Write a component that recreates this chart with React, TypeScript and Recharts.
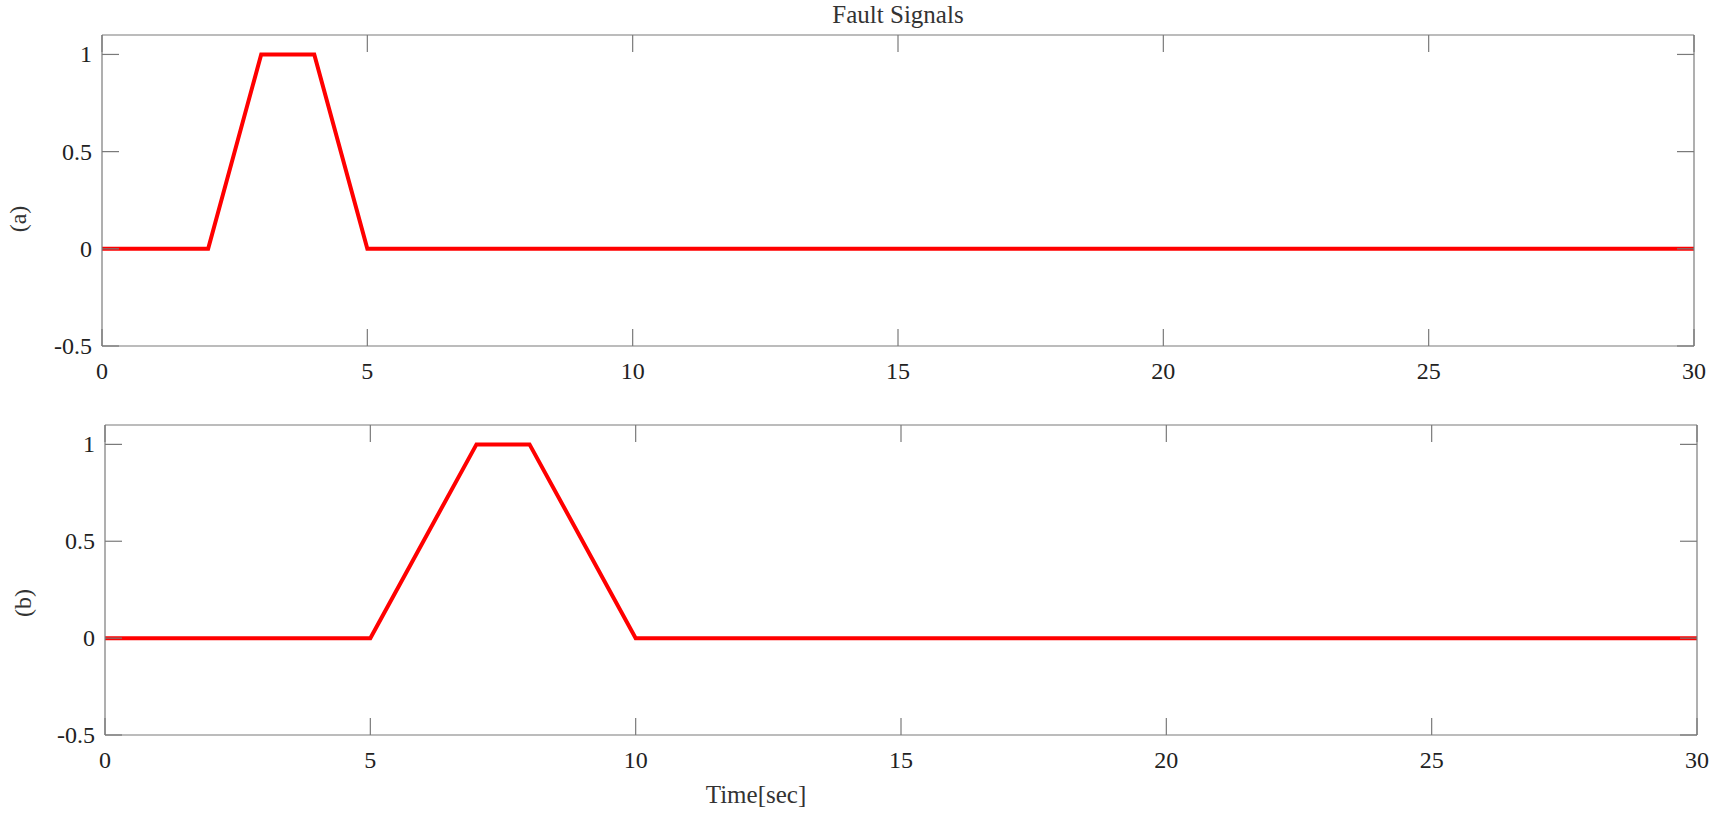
import React from 'react';
import { LineChart, Line, XAxis, YAxis } from 'recharts';

const timeA = [0, 2, 3, 4, 5, 30];
const faultA = [0, 0, 1, 1, 0, 0];
const timeB = [0, 5, 7, 8, 10, 30];
const faultB = [0, 0, 1, 1, 0, 0];
const xTicks = [0, 5, 10, 15, 20, 25, 30];
const yTicks = [-0.5, 0, 0.5, 1];

const dataA = timeA.map((t, i) => ({ t, v: faultA[i] }));
const dataB = timeB.map((t, i) => ({ t, v: faultB[i] }));

const FONT = '"Liberation Serif", "DejaVu Serif", serif';
const AXIS = '#7a7a7a';
const TICK_LEN = 17;

const BottomTick = (p: any) => (
  <g>
    <line x1={p.x} y1={p.y} x2={p.x} y2={p.y - TICK_LEN} stroke={AXIS} strokeWidth={1.2} />
    <text x={p.x} y={p.y + 25} textAnchor='middle' dominantBaseline='central' fontFamily={FONT} fontSize={24} fill='#222'>
      {p.payload.value}
    </text>
  </g>
);

const TopTick = (p: any) => (
  <line x1={p.x} y1={p.y} x2={p.x} y2={p.y + TICK_LEN} stroke={AXIS} strokeWidth={1.2} />
);

const LeftTick = (p: any) => (
  <g>
    <line x1={p.x} y1={p.y} x2={p.x + TICK_LEN} y2={p.y} stroke={AXIS} strokeWidth={1.2} />
    <text x={p.x - 10} y={p.y} textAnchor='end' dominantBaseline='central' fontFamily={FONT} fontSize={24} fill='#222'>
      {p.payload.value}
    </text>
  </g>
);

const RightTick = (p: any) => (
  <line x1={p.x} y1={p.y} x2={p.x - TICK_LEN} y2={p.y} stroke={AXIS} strokeWidth={1.2} />
);

function Panel({ data, height, margin, leftW, bottomH }: any) {
  return (
    <LineChart width={1719} height={height} data={data} margin={margin}>
      <XAxis xAxisId='b' dataKey='t' type='number' domain={[0, 30]} ticks={xTicks} allowDataOverflow
        orientation='bottom' height={bottomH} tickSize={0} tickMargin={0} tickLine={false}
        axisLine={{ stroke: AXIS, strokeWidth: 1.2 }} tick={BottomTick} interval={0} />
      <XAxis xAxisId='t' dataKey='t' type='number' domain={[0, 30]} ticks={xTicks} allowDataOverflow
        orientation='top' height={1} tickSize={0} tickMargin={0} tickLine={false}
        axisLine={{ stroke: AXIS, strokeWidth: 1.2 }} tick={TopTick} interval={0} />
      <YAxis yAxisId='l' type='number' domain={[-0.5, 1.1]} ticks={yTicks} allowDataOverflow
        orientation='left' width={leftW} tickSize={0} tickMargin={0} tickLine={false}
        axisLine={{ stroke: AXIS, strokeWidth: 1.2 }} tick={LeftTick} interval={0} />
      <YAxis yAxisId='r' type='number' domain={[-0.5, 1.1]} ticks={yTicks} allowDataOverflow
        orientation='right' width={1} tickSize={0} tickMargin={0} tickLine={false}
        axisLine={{ stroke: AXIS, strokeWidth: 1.2 }} tick={RightTick} interval={0} />
      <Line xAxisId='b' yAxisId='l' type='linear' dataKey='v' stroke='#ff0000' strokeWidth={4}
        dot={false} isAnimationActive={false} />
      <Line xAxisId='t' yAxisId='r' type='linear' dataKey='v' stroke='none' strokeWidth={0}
        dot={false} activeDot={false} isAnimationActive={false} />
    </LineChart>
  );
}

const sideLabel = (text: string, cx: number, cy: number) => (
  <div style={{
    position: 'absolute', left: cx - 30, top: cy - 15, width: 60, height: 30,
    lineHeight: '30px', textAlign: 'center', transform: 'rotate(-90deg)',
    fontFamily: FONT, fontSize: 24, color: '#333',
  }}>{text}</div>
);

export default function App() {
  return (
    <div style={{ position: 'absolute', left: 0, top: 0, width: 1719, height: 813, background: '#fff' }}>
      <div style={{ position: 'absolute', left: 0, top: 0 }}>
        <Panel data={dataA} height={400} margin={{ top: 34, right: 24, bottom: 0, left: 0 }} leftW={102} bottomH={54} />
      </div>
      <div style={{ position: 'absolute', left: 0, top: 400 }}>
        <Panel data={dataB} height={413} margin={{ top: 24, right: 21, bottom: 0, left: 0 }} leftW={105} bottomH={78} />
      </div>
      <div style={{ position: 'absolute', left: 0, width: 1796, top: 1, textAlign: 'center', fontFamily: FONT, fontSize: 25, color: '#333' }}>
        Fault Signals
      </div>
      {sideLabel('(a)', 18, 219)}
      {sideLabel('(b)', 23, 603)}
      <div style={{ position: 'absolute', left: 656, width: 200, top: 781, textAlign: 'center', fontFamily: FONT, fontSize: 25, color: '#333' }}>
        Time[sec]
      </div>
    </div>
  );
}
